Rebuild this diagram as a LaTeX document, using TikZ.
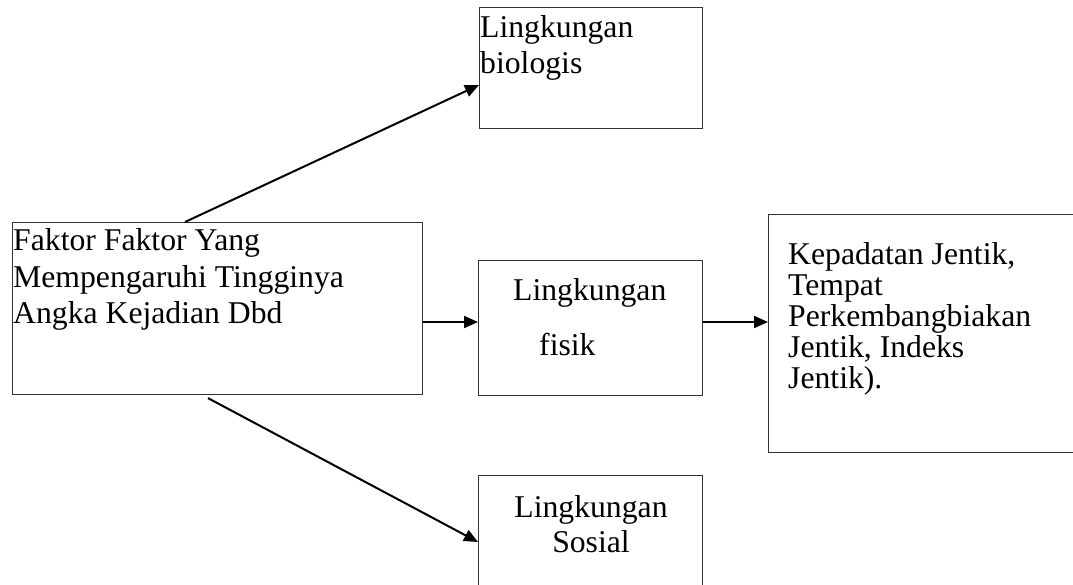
\documentclass[tikz,border=0pt]{standalone}
\usepackage{fontspec}
\setmainfont{Liberation Serif}
\usetikzlibrary{arrows.meta,calc}
\begin{document}
\begin{tikzpicture}[x=1pt,y=-1pt,
  box/.style={draw=black!80,line width=1.1pt,rectangle,inner sep=0pt,anchor=north west},
  txt/.style={inner sep=0pt,anchor=base west,font=\fontsize{31.7}{36}\selectfont},
  txtc/.style={inner sep=0pt,anchor=base,font=\fontsize{31.7}{36}\selectfont},
  arr/.style={line width=2pt,-{Triangle[length=14pt,width=12pt]}}]
\useasboundingbox (0,0) rectangle (1073,584);
% boxes
\node[box,minimum width=410pt,minimum height=172pt] (main) at (12,222) {};
\node[box,minimum width=223pt,minimum height=121pt] (bio) at (479,7) {};
\node[box,minimum width=224pt,minimum height=135pt] (fis) at (478,260) {};
\node[box,minimum width=312pt,minimum height=238pt] (kep) at (768,214) {};
\node[box,minimum width=224pt,minimum height=112pt] (sos) at (478,475) {};
% texts
\node[txt] (b1) at (480,37) {Lingkungan};
\node[txt] (b2) at (480,73) {biologis};
\node[txt] (m1) at (13,250) {Faktor Faktor Yang};
\node[txt] (m2) at (13,287) {Mempengaruhi Tingginya};
\node[txt] (m3) at (13,323) {Angka Kejadian Dbd};
\node[txt] (f1) at (513,300) {Lingkungan};
\node[txt] (f2) at (539,355) {fisik};
\node[txt] (k1) at (788,264) {Kepadatan Jentik,};
\node[txt] (k2) at (788,295) {Tempat};
\node[txt] (k3) at (788,326) {Perkembangbiakan};
\node[txt] (k4) at (788,357) {Jentik, Indeks};
\node[txt] (k5) at (788,388) {Jentik).};
\node[txtc] (s1) at (591,517) {Lingkungan};
\node[txtc] (s2) at (591,552) {Sosial};
% connectors
\draw[arr] ([xshift=173pt]main.north west) -- ([yshift=-78pt]bio.north west);
\draw[arr] ([yshift=-100pt]main.north east) -- ([yshift=-62pt]fis.north west);
\draw[arr] ([yshift=-62pt]fis.north east) -- ([yshift=-108pt]kep.north west);
\draw[arr] ([xshift=196pt,yshift=-3pt]main.south west) -- ([yshift=-67pt]sos.north west);
\end{tikzpicture}
\end{document}
